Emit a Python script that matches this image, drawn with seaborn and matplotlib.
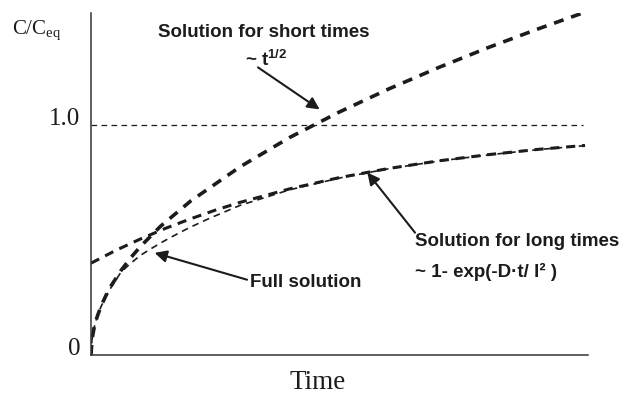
import numpy as np
import pandas as pd
import matplotlib
matplotlib.use('Agg')
import matplotlib.pyplot as plt
import matplotlib.transforms as mtransforms
import seaborn as sns

# values (time in axis units 0..5, C/Ceq)
t_short = [0, 0.01, 0.03, 0.06, 0.1, 0.15, 0.2, 0.3, 0.4, 0.5, 0.7, 1.0, 1.5, 2.0, 2.5, 3.0, 3.5, 4.0, 4.5, 4.94]
c_short = [0, 0.067, 0.116, 0.164, 0.212, 0.259, 0.30, 0.367, 0.424, 0.474, 0.561, 0.67, 0.82, 0.948, 1.059, 1.16, 1.253, 1.34, 1.421, 1.489]

t_long = [0, 0.25, 0.5, 0.75, 1.0, 1.25, 1.5, 2.0, 2.5, 3.0, 3.5, 4.0, 4.5, 4.97]
c_long = [0.40, 0.456, 0.506, 0.552, 0.593, 0.631, 0.665, 0.724, 0.773, 0.813, 0.846, 0.873, 0.896, 0.913]

t_full = [0, 0.01, 0.03, 0.06, 0.1, 0.15, 0.2, 0.3, 0.4, 0.5, 0.6, 0.7, 0.8, 0.9, 1.0, 1.2, 1.5, 2.0, 2.5, 3.0, 3.5, 4.0, 4.5, 4.97]
c_full = [0, 0.067, 0.116, 0.164, 0.21, 0.255, 0.293, 0.36, 0.40, 0.435, 0.462, 0.488, 0.512, 0.535, 0.557, 0.597, 0.652, 0.72, 0.771, 0.812, 0.845, 0.872, 0.895, 0.912]

t_eq = [0, 4.95]
c_eq = [1.0, 1.0]

ink = '#1c1c1c'

sns.set_style('white')
plt.rcParams['font.family'] = ['Liberation Sans', 'DejaVu Sans']

fig = plt.figure(figsize=(6.25, 3.96), dpi=100)
ax = fig.add_axes([0.1456, 0.1035, 0.7952, 0.8637])

sns.lineplot(x=t_eq, y=c_eq, ax=ax, color=ink, lw=0.9, linestyle=(0, (4.5, 3.5)))
sns.lineplot(x=t_full, y=c_full, ax=ax, color=ink, lw=1.2, linestyle=(0, (4, 3)))
sns.lineplot(x=t_short, y=c_short, ax=ax, color=ink, lw=2.6, linestyle=(0, (2.8, 2.2)))
sns.lineplot(x=t_long, y=c_long, ax=ax, color=ink, lw=2.2, linestyle=(0, (3.0, 2.2)))

ax.set_xlim(0, 5)
ax.set_ylim(0, 1.49)
for side in ['top', 'right']:
    ax.spines[side].set_visible(False)
for side in ['left', 'bottom']:
    ax.spines[side].set_color('#333333')
    ax.spines[side].set_linewidth(1.1)

ax.set_xticks([2, 3, 4])
ax.set_yticks([0.5, 1.0])
ax.tick_params(direction='inout', length=6, width=1, color='#333333',
               labelbottom=False, labelleft=False)
ax.set_xlabel('')
ax.set_ylabel('')

serif = ['Liberation Serif', 'DejaVu Serif']
ytrans = mtransforms.blended_transform_factory(ax.transAxes, ax.transData)
ax.text(-0.022, 1.0, '1.0', transform=ytrans, ha='right', va='baseline',
        family=serif, fontsize=18, color=ink)
ax.text(-0.022, 0.0, '0', transform=ytrans, ha='right', va='baseline',
        family=serif, fontsize=18, color=ink)
ax.text(-0.158, 1.41, r'C/C$_{\mathregular{eq}}$', transform=ytrans, ha='left',
        va='center', family=serif, fontsize=15, color=ink)
ax.text(0.455, -0.1, 'Time', transform=ax.transAxes, ha='center', va='baseline',
        family=serif, fontsize=19.5, color=ink)

bold = dict(fontweight='bold', fontsize=13.5, color=ink, ha='left', va='center')
ax.text(0.674, 1.406, 'Solution for short times', **bold)
ax.text(1.55, 1.288, r'~ t$^{\mathregular{1/2}}$', **bold)
ax.text(3.26, 0.493, 'Solution for long times', **bold)
ax.text(3.26, 0.362, '~ 1- exp(-D·t/ l² )', **bold)
ax.text(1.6, 0.314, 'Full solution', **bold)

arrow = dict(arrowstyle='-|>', lw=1.5, color=ink, mutation_scale=18,
             shrinkA=0, shrinkB=0)
ax.annotate('', xy=(2.30, 1.07), xytext=(1.68, 1.253), arrowprops=arrow)
ax.annotate('', xy=(2.78, 0.795), xytext=(3.26, 0.533), arrowprops=arrow)
ax.annotate('', xy=(0.64, 0.445), xytext=(1.57, 0.328), arrowprops=arrow)

plt.savefig('out.png', dpi=100)
